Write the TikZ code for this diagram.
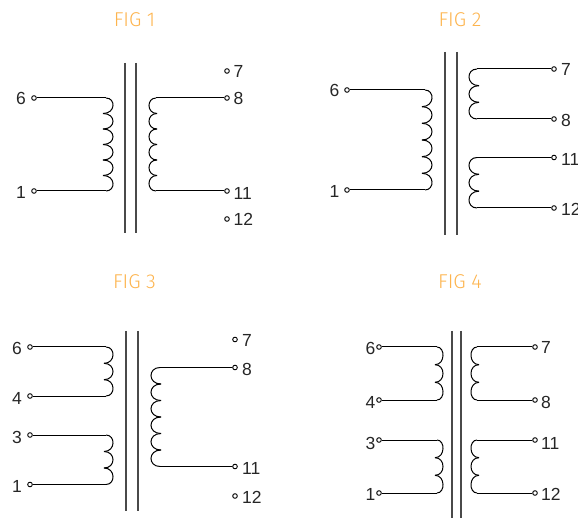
\documentclass[tikz,border=0pt]{standalone}
\usepackage{fontspec}
\setmainfont{Liberation Sans}
\newfontfamily\titlefont{Fira Sans Light}
\definecolor{figorange}{HTML}{FDB44E}
\definecolor{coregray}{HTML}{4A4A4A}
\tikzset{
  terminal/.style={circle,draw=black,fill=white,inner sep=0pt,minimum size=4.6pt,line width=0.9pt},
  pinlabel/.style={inner sep=0pt,font=\fontsize{17.5}{18}\selectfont,text=black!85},
  figtitle/.style={inner sep=0pt,text=figorange,font=\titlefont\fontsize{20}{20}\selectfont},
  wire/.style={draw=black,line width=1pt},
  core/.style={draw=coregray,line width=1.1pt}
}
% name, x, y, label, label anchor, label x, label y
\newcommand{\pinat}[7]{%
  \node[terminal] (#1) at (#2,#3) {};
  \node[pinlabel,anchor=#5] (#1l) at (#6,#7) {#4};
}
% top node, bottom node, ytop, ybottom, xwire, xcusp, xbulge, humps
\newcommand{\windg}[8]{%
  \draw[wire] (#1) -- (#5,#3);
  \draw[wire] (#2) -- (#5,#4);
  \foreach \i in {1,...,#8}{
    \pgfmathsetmacro{\ya}{#3+(\i-1)*(#4-#3)/#8}
    \pgfmathsetmacro{\yb}{#3+\i*(#4-#3)/#8}
    \pgfmathsetmacro{\xa}{\i==1 ? #5 : #6}
    \pgfmathsetmacro{\xb}{\i==#8 ? #5 : #6}
    \pgfmathsetmacro{\xk}{(#7-(\xa+\xb)/8)*4/3}
    \draw[wire] (\xa,\ya) .. controls (\xk,\ya) and (\xk,\yb) .. (\xb,\yb);
  }
}
\begin{document}
\begin{tikzpicture}[x=1pt,y=-1pt]
\useasboundingbox (0,0) rectangle (578,518);
% titles
\node[figtitle] (t1) at (134.5,20) {FIG 1};
\node[figtitle] (t2) at (460,20) {FIG 2};
\node[figtitle] (t3) at (134.5,282) {FIG 3};
\node[figtitle] (t4) at (460,282) {FIG 4};
% FIG 1
\draw[core] (125,63) -- (125,233);
\draw[core] (136,63) -- (136,233);
\pinat{a6}{34}{98}{6}{east}{26}{98}
\pinat{a1}{34}{191}{1}{east}{26}{192.5}
\pinat{a7}{227}{71}{7}{west}{233.5}{71}
\pinat{a8}{227}{98}{8}{west}{233.5}{98.5}
\pinat{a11}{227}{191}{11}{west}{233.5}{193}
\pinat{a12}{227}{219}{12}{west}{233.5}{219}
\windg{a6}{a1}{98}{191}{106}{103}{113}{6}
\windg{a8}{a11}{98}{191}{156}{157}{149}{6}
% FIG 2
\draw[core] (445,52) -- (445,235);
\draw[core] (457,52) -- (457,235);
\pinat{b6}{347}{90}{6}{east}{339.5}{90}
\pinat{b1}{347}{190}{1}{east}{339.5}{191.5}
\pinat{b7}{554}{69}{7}{west}{561}{69.5}
\pinat{b8}{554}{119}{8}{west}{561}{120}
\pinat{b11}{554}{157.5}{11}{west}{561}{159}
\pinat{b12}{554}{208}{12}{west}{561}{209.5}
\windg{b6}{b1}{90}{190}{425}{422}{432}{6}
\windg{b7}{b8}{69}{119}{477}{479}{469}{3}
\windg{b11}{b12}{157.5}{208}{477}{479}{469}{3}
% FIG 3
\draw[core] (126,331) -- (126,511);
\draw[core] (138,331) -- (138,511);
\pinat{c6}{30}{347}{6}{east}{22}{348}
\pinat{c4}{30}{396}{4}{east}{22}{398}
\pinat{c3}{30}{435}{3}{east}{22}{437}
\pinat{c1}{30}{484.5}{1}{east}{22}{486}
\pinat{c7}{235}{339.5}{7}{west}{242}{340}
\pinat{c8}{235}{367.5}{8}{west}{242}{369}
\pinat{c11}{235}{466.5}{11}{west}{242}{468}
\pinat{c12}{235}{496}{12}{west}{242}{497}
\windg{c6}{c4}{347}{396}{106}{104}{113}{3}
\windg{c3}{c1}{435}{484.5}{106}{104}{113}{3}
\windg{c8}{c11}{367.5}{466.5}{160}{161}{151}{6}
% FIG 4
\draw[core] (452,331) -- (452,518);
\draw[core] (461,331) -- (461,518);
\pinat{d6}{379}{347}{6}{east}{375.5}{348}
\pinat{d4}{379}{400}{4}{east}{375.5}{402}
\pinat{d3}{379}{440}{3}{east}{375.5}{443}
\pinat{d1}{379}{493}{1}{east}{375.5}{494}
\pinat{d7}{535}{347}{7}{west}{541}{347.5}
\pinat{d8}{535}{400}{8}{west}{541}{402}
\pinat{d11}{535}{440}{11}{west}{541}{443}
\pinat{d12}{535}{493}{12}{west}{541}{494}
\windg{d6}{d4}{347}{400}{437}{435}{443}{3}
\windg{d3}{d1}{440}{493}{437}{435}{443}{3}
\windg{d7}{d8}{347}{400}{477}{479}{471}{3}
\windg{d11}{d12}{440}{493}{477}{479}{471}{3}
\end{tikzpicture}
\end{document}
